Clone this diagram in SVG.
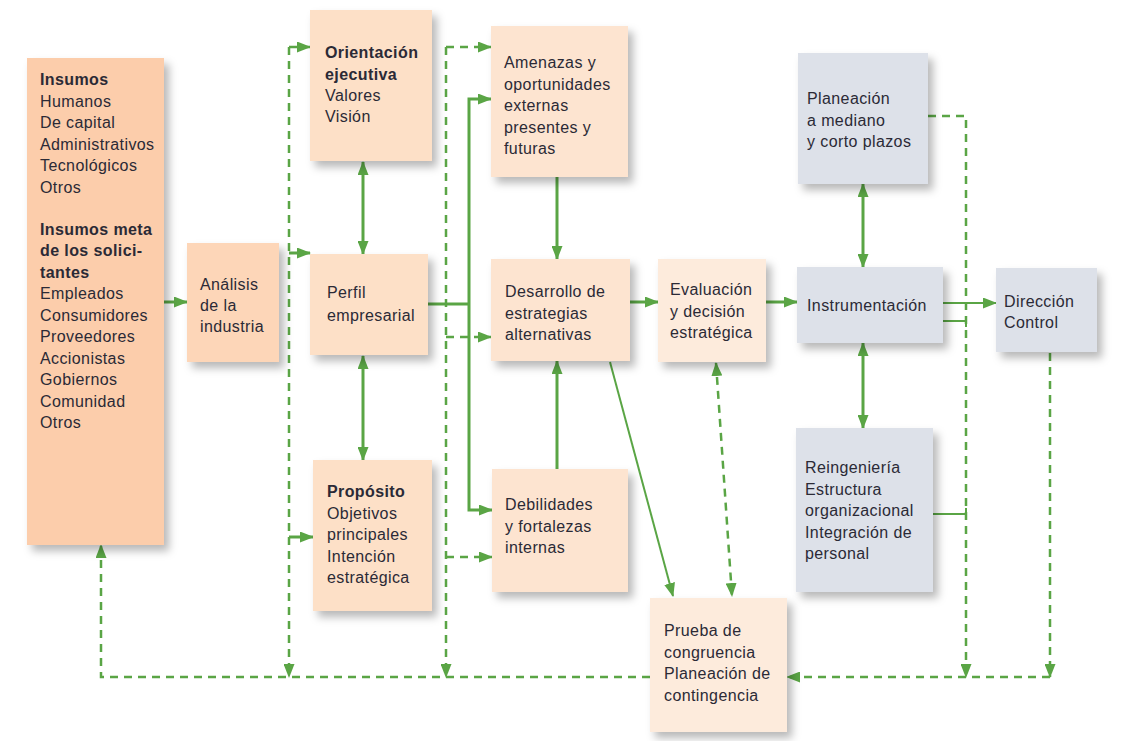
<svg xmlns="http://www.w3.org/2000/svg" width="1129" height="741" viewBox="0 0 1129 741">
<style>
text{font-family:"Liberation Sans",Arial,sans-serif;font-size:16px;letter-spacing:0.4px;fill:#2b2a36}
.b{font-weight:bold}
.n1{fill:#fccdab}
.n2{fill:#fdd6b8}
.n3{fill:#fde0c7}
.n4{fill:#fde4d0}
.n5{fill:#fdebdc}
.g{fill:#dde1e9}
.s{fill:none;stroke:#5aa545;stroke-width:3}
.t{fill:none;stroke:#5aa545;stroke-width:2}
.d{fill:none;stroke:#5aa545;stroke-width:2.5;stroke-dasharray:8 6}
</style>
<defs>
<filter id="sh" x="-20%" y="-20%" width="150%" height="150%">
<feDropShadow dx="5" dy="6" stdDeviation="4" flood-color="#000" flood-opacity="0.28"/>
</filter>
<marker id="ah" viewBox="0 0 14 11" markerWidth="14" markerHeight="11" refX="13" refY="5.5" orient="auto-start-reverse" markerUnits="userSpaceOnUse">
<path d="M0,0 L14,5.5 L0,11 z" fill="#5aa545"/>
</marker>
</defs>
<rect width="1129" height="741" fill="#fff"/>

<g id="connectors">
<path class="s" d="M164,302 H187" marker-end="url(#ah)"/>
<path class="s" d="M363,162 V254" marker-start="url(#ah)" marker-end="url(#ah)"/>
<path class="s" d="M363,356 V460" marker-start="url(#ah)" marker-end="url(#ah)"/>
<path class="s" d="M428,304 H469"/>
<path class="s" d="M469,304 V99 H491" marker-end="url(#ah)"/>
<path class="s" d="M469,304 V510 H492" marker-end="url(#ah)"/>
<path class="s" d="M557,177 V259" marker-end="url(#ah)"/>
<path class="s" d="M557,469 V361" marker-end="url(#ah)"/>
<path class="s" d="M630,302 H658" marker-end="url(#ah)"/>
<path class="s" d="M766,302 H797" marker-end="url(#ah)"/>
<path class="s" d="M863,184 V267" marker-start="url(#ah)" marker-end="url(#ah)"/>
<path class="s" d="M863,343 V428" marker-start="url(#ah)" marker-end="url(#ah)"/>
<path class="t" d="M943,303 H996" marker-end="url(#ah)"/>
<path class="t" d="M943,321 H966 V327"/>
<path class="t" d="M933,514 H966 V508"/>
<path class="t" d="M610,362 L673,596" marker-end="url(#ah)"/>
<path class="s" d="M289,253 H310" marker-end="url(#ah)"/>
<path class="s" d="M289,537 H313" marker-end="url(#ah)"/>

<path class="d" d="M289,47 V677" marker-end="url(#ah)"/>
<path class="d" d="M289,47 H310" marker-end="url(#ah)"/>
<path class="d" d="M446,47 V677" marker-end="url(#ah)"/>
<path class="d" d="M446,47 H491" marker-end="url(#ah)"/>
<path class="d" d="M446,337 H491" marker-end="url(#ah)"/>
<path class="d" d="M446,557 H492" marker-end="url(#ah)"/>
<path class="d" d="M928,116 H966 V677" marker-end="url(#ah)"/>
<path class="d" d="M1050,353 V677" marker-end="url(#ah)"/>
<path class="d" d="M1050,677 H787" marker-end="url(#ah)"/>
<path class="d" d="M650,677 H101 V545" marker-end="url(#ah)"/>
<path class="d" d="M716,363 L732,596" marker-start="url(#ah)" marker-end="url(#ah)"/>
</g>

<g id="insumos">
<rect class="n1" x="27" y="58" width="137" height="487" filter="url(#sh)"/>
<text x="40" y="85"><tspan class="b">Insumos</tspan><tspan x="40" dy="21.5">Humanos</tspan><tspan x="40" dy="21.5">De capital</tspan><tspan x="40" dy="21.5">Administrativos</tspan><tspan x="40" dy="21.5">Tecnológicos</tspan><tspan x="40" dy="21.5">Otros</tspan><tspan x="40" dy="42" class="b">Insumos meta</tspan><tspan x="40" dy="21.5" class="b">de los solici-</tspan><tspan x="40" dy="21.5" class="b">tantes</tspan><tspan x="40" dy="21.5">Empleados</tspan><tspan x="40" dy="21.5">Consumidores</tspan><tspan x="40" dy="21.5">Proveedores</tspan><tspan x="40" dy="21.5">Accionistas</tspan><tspan x="40" dy="21.5">Gobiernos</tspan><tspan x="40" dy="21.5">Comunidad</tspan><tspan x="40" dy="21.5">Otros</tspan></text>
</g>

<g id="analisis">
<rect class="n2" x="187" y="243" width="92" height="119" filter="url(#sh)"/>
<text x="200" y="290"><tspan>Análisis</tspan><tspan x="200" dy="21">de la</tspan><tspan x="200" dy="21">industria</tspan></text>
</g>

<g id="orientacion">
<rect class="n3" x="310" y="10" width="122" height="151" filter="url(#sh)"/>
<text x="325" y="58"><tspan class="b">Orientación</tspan><tspan x="325" dy="21.5" class="b">ejecutiva</tspan><tspan x="325" dy="21.5">Valores</tspan><tspan x="325" dy="21">Visión</tspan></text>
</g>

<g id="perfil">
<rect class="n3" x="310" y="254" width="118" height="101" filter="url(#sh)"/>
<text x="327" y="298"><tspan>Perfil</tspan><tspan x="327" dy="23">empresarial</tspan></text>
</g>

<g id="proposito">
<rect class="n3" x="313" y="460" width="119" height="151" filter="url(#sh)"/>
<text x="327" y="497"><tspan class="b">Propósito</tspan><tspan x="327" dy="21.5">Objetivos</tspan><tspan x="327" dy="21.5">principales</tspan><tspan x="327" dy="21.5">Intención</tspan><tspan x="327" dy="21.5">estratégica</tspan></text>
</g>

<g id="amenazas">
<rect class="n4" x="491" y="26" width="137" height="151" filter="url(#sh)"/>
<text x="504" y="68"><tspan>Amenazas y</tspan><tspan x="504" dy="21.5">oportunidades</tspan><tspan x="504" dy="21.5">externas</tspan><tspan x="504" dy="21.5">presentes y</tspan><tspan x="504" dy="21.5">futuras</tspan></text>
</g>

<g id="desarrollo">
<rect class="n4" x="491" y="259" width="139" height="102" filter="url(#sh)"/>
<text x="505" y="297"><tspan>Desarrollo de</tspan><tspan x="505" dy="21.5">estrategias</tspan><tspan x="505" dy="21.5">alternativas</tspan></text>
</g>

<g id="debilidades">
<rect class="n4" x="492" y="469" width="136" height="123" filter="url(#sh)"/>
<text x="505" y="510"><tspan>Debilidades</tspan><tspan x="505" dy="21.5">y fortalezas</tspan><tspan x="505" dy="21.5">internas</tspan></text>
</g>

<g id="evaluacion">
<rect class="n5" x="658" y="259" width="108" height="103" filter="url(#sh)"/>
<text x="670" y="295"><tspan>Evaluación</tspan><tspan x="670" dy="21.5">y decisión</tspan><tspan x="670" dy="21.5">estratégica</tspan></text>
</g>

<g id="planeacion">
<rect class="g" x="798" y="53" width="130" height="131" filter="url(#sh)"/>
<text x="807" y="104"><tspan>Planeación</tspan><tspan x="807" dy="21.5">a mediano</tspan><tspan x="807" dy="21.5">y corto plazos</tspan></text>
</g>

<g id="instrumentacion">
<rect class="g" x="797" y="267" width="146" height="76" filter="url(#sh)"/>
<text x="807" y="311">Instrumentación</text>
</g>

<g id="direccion">
<rect class="g" x="996" y="268" width="101" height="84" filter="url(#sh)"/>
<text x="1004" y="307"><tspan>Dirección</tspan><tspan x="1004" dy="21">Control</tspan></text>
</g>

<g id="reingenieria">
<rect class="g" x="796" y="428" width="137" height="164" filter="url(#sh)"/>
<text x="805" y="473"><tspan>Reingeniería</tspan><tspan x="805" dy="21.5">Estructura</tspan><tspan x="805" dy="21.5">organizacional</tspan><tspan x="805" dy="21.5">Integración de</tspan><tspan x="805" dy="21.5">personal</tspan></text>
</g>

<g id="prueba">
<rect class="n5" x="650" y="598" width="137" height="134" filter="url(#sh)"/>
<text x="664" y="636"><tspan>Prueba de</tspan><tspan x="664" dy="21.5">congruencia</tspan><tspan x="664" dy="21.5">Planeación de</tspan><tspan x="664" dy="21.5">contingencia</tspan></text>
</g>
</svg>
